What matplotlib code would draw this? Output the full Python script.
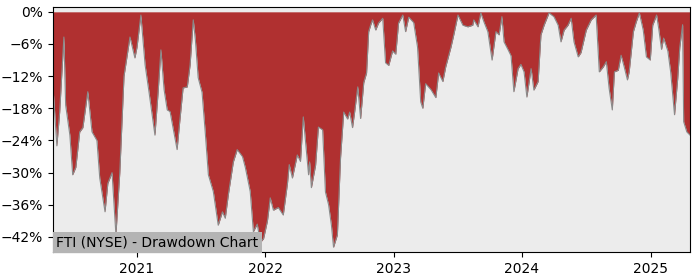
import matplotlib
matplotlib.use("Agg")
import matplotlib.pyplot as plt
import matplotlib.dates as mdates
from matplotlib.ticker import PercentFormatter, MultipleLocator
import pandas as pd

# drawdown readings (date, % below running peak)
dates = [
    "2020-05-07", "2020-05-18", "2020-05-26", "2020-06-07", "2020-06-12", "2020-06-24",
    "2020-07-02", "2020-07-11", "2020-07-22", "2020-07-31", "2020-08-14", "2020-08-26",
    "2020-09-09", "2020-09-17", "2020-10-02", "2020-10-10", "2020-10-22", "2020-11-02",
    "2020-11-13", "2020-11-25", "2020-12-12", "2020-12-26", "2021-01-01", "2021-01-12",
    "2021-01-24", "2021-02-04", "2021-02-21", "2021-03-02", "2021-03-10", "2021-03-19",
    "2021-03-28", "2021-04-05", "2021-04-25", "2021-05-01", "2021-05-12", "2021-05-24",
    "2021-06-01", "2021-06-10", "2021-06-16", "2021-06-24", "2021-07-05", "2021-07-14",
    "2021-07-23", "2021-08-06", "2021-08-20", "2021-09-01", "2021-09-09", "2021-09-18",
    "2021-10-02", "2021-10-13", "2021-10-28", "2021-11-05", "2021-11-19", "2021-11-28",
    "2021-12-09", "2021-12-18", "2021-12-27", "2022-01-07", "2022-01-15", "2022-01-24",
    "2022-02-07", "2022-02-21", "2022-03-05", "2022-03-10", "2022-03-19", "2022-04-02",
    "2022-04-11", "2022-04-19", "2022-05-04", "2022-05-07", "2022-05-12", "2022-05-24",
    "2022-06-01", "2022-06-13", "2022-06-21", "2022-06-30", "2022-07-08", "2022-07-14",
    "2022-07-25", "2022-08-03", "2022-08-12", "2022-08-23", "2022-08-29", "2022-09-06",
    "2022-09-12", "2022-09-21", "2022-09-29", "2022-10-08", "2022-10-16", "2022-10-22",
    "2022-10-28", "2022-11-02", "2022-11-11", "2022-11-19", "2022-12-01", "2022-12-09",
    "2022-12-18", "2022-12-29", "2023-01-07", "2023-01-15", "2023-01-27", "2023-02-04",
    "2023-02-13", "2023-02-27", "2023-03-10", "2023-03-19", "2023-03-25", "2023-04-02",
    "2023-04-17", "2023-05-01", "2023-05-09", "2023-05-21", "2023-05-29", "2023-06-13",
    "2023-06-21", "2023-07-03", "2023-07-17", "2023-07-31", "2023-08-14", "2023-08-17",
    "2023-08-29", "2023-09-06", "2023-09-15", "2023-09-26", "2023-10-08", "2023-10-19",
    "2023-10-28", "2023-11-05", "2023-11-11", "2023-11-22", "2023-12-01", "2023-12-09",
    "2023-12-21", "2023-12-29", "2024-01-07", "2024-01-15", "2024-01-27", "2024-02-04",
    "2024-02-16", "2024-02-24", "2024-03-04", "2024-03-18", "2024-04-01", "2024-04-13",
    "2024-04-21", "2024-04-30", "2024-05-11", "2024-05-20", "2024-05-28", "2024-06-09",
    "2024-06-17", "2024-07-02", "2024-07-16", "2024-07-30", "2024-08-08", "2024-08-19",
    "2024-08-28", "2024-09-05", "2024-09-14", "2024-09-20", "2024-10-01", "2024-10-09",
    "2024-10-18", "2024-10-27", "2024-11-01", "2024-11-13", "2024-11-21", "2024-11-30",
    "2024-12-11", "2024-12-20", "2024-12-31", "2025-01-07", "2025-01-18", "2025-01-24",
    "2025-02-01", "2025-02-07", "2025-02-19", "2025-02-27", "2025-03-10", "2025-03-19",
    "2025-03-25", "2025-04-02", "2025-04-05", "2025-04-14", "2025-04-23",
]
drawdown = [
    -14.0, -25.0, -18.7, -4.7, -17.4, -23.0,
    -30.4, -29.0, -22.4, -21.6, -14.9, -22.4,
    -24.0, -31.0, -37.3, -32.0, -30.0, -41.6,
    -30.0, -12.0, -4.7, -8.6, -6.6, -0.6,
    -9.9, -14.9, -23.0, -15.0, -7.1, -14.5,
    -18.3, -18.6, -25.7, -21.5, -14.2, -14.0,
    -9.9, -1.5, -5.2, -12.3, -15.0, -22.4,
    -30.4, -33.5, -39.8, -37.3, -38.5, -34.0,
    -28.0, -25.7, -27.0, -29.0, -33.5, -41.0,
    -39.6, -43.0, -42.3, -39.0, -34.7, -37.0,
    -36.5, -37.9, -32.0, -28.5, -31.0, -26.7,
    -27.9, -19.6, -30.4, -28.0, -32.8, -28.6,
    -21.5, -22.0, -33.6, -36.0, -39.8, -43.9,
    -41.6, -27.2, -18.7, -20.0, -18.7, -21.6,
    -18.7, -14.0, -19.9, -13.2, -11.4, -3.7,
    -2.4, -1.5, -3.4, -2.1, -1.2, -9.5,
    -10.0, -7.3, -7.9, -2.1, -0.6, -3.7,
    -1.0, -2.0, -6.6, -16.8, -18.0, -13.4,
    -14.5, -16.0, -11.4, -13.0, -10.3, -6.6,
    -4.3, -0.6, -2.5, -2.8, -2.5, -1.5,
    -2.8, -0.2, -1.9, -3.7, -9.0, -3.7,
    -4.3, -0.9, -5.6, -7.0, -8.2, -14.9,
    -10.6, -9.8, -11.2, -15.9, -10.6, -14.6,
    -13.0, -4.3, -2.5, -0.2, -0.9, -2.5,
    -5.6, -3.4, -2.5, -1.2, -5.6, -8.4,
    -7.6, -3.4, -1.5, -0.6, -11.2, -10.3,
    -9.3, -14.3, -18.3, -11.2, -10.9, -8.1,
    -10.3, -12.7, -11.2, -3.7, -1.9, -0.2,
    -3.4, -8.4, -9.0, -2.5, -0.6, -3.1,
    -7.0, -4.9, -7.3, -11.2, -19.2, -12.5,
    -6.6, -2.4, -20.5, -22.4, -23.0,
]

ticker_label = "FTI (NYSE) - Drawdown Chart"

x = pd.to_datetime(dates)

fig = plt.figure(figsize=(7, 2.8), dpi=100)
ax = fig.add_axes([0.0757, 0.1, 0.91, 0.875])
ax.set_facecolor("#ececec")

ax.fill_between(x, drawdown, 0, color="#b03030", linewidth=0)
ax.plot(x, drawdown, color="#8a8a8a", linewidth=0.8)

ax.set_xlim(x[0], x[-1])
ax.set_ylim(-44.8, 0.9)
ax.yaxis.set_major_locator(MultipleLocator(6))
ax.yaxis.set_major_formatter(PercentFormatter(decimals=0))
ax.xaxis.set_major_locator(mdates.YearLocator())
ax.xaxis.set_major_formatter(mdates.DateFormatter("%Y"))
ax.tick_params(labelsize=10)

ax.text(0.005, 0.012, ticker_label, transform=ax.transAxes, fontsize=10,
        ha="left", va="bottom",
        bbox=dict(facecolor="#b4b4b4", edgecolor="none", pad=2.5))

fig.savefig("out.png")
